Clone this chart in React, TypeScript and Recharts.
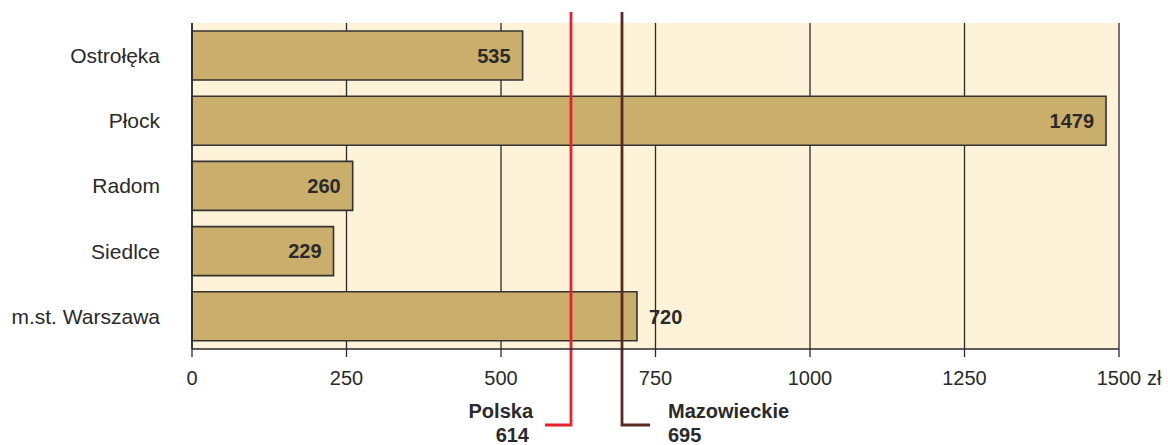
import { Bar, BarChart, CartesianGrid, LabelList, ReferenceLine, XAxis, YAxis } from "recharts";

const cities = ["Ostrołęka", "Płock", "Radom", "Siedlce", "m.st. Warszawa"];
const amounts = [535, 1479, 260, 229, 720];
const xTicks = [0, 250, 500, 750, 1000, 1250, 1500];
const unit = "zł";
const polska = { label: "Polska", value: 614 };
const mazowieckie = { label: "Mazowieckie", value: 695 };

const data = cities.map((city, i) => ({ city, amount: amounts[i] }));

const FONT = "'Liberation Sans', Arial, Helvetica, sans-serif";
const INK = "#2a2a2a";

const ValueLabel = (props: any) => {
  const { x, y, width, height, value } = props;
  // labels close to the average lines are moved outside the bar
  const near =
    Math.abs(value - polska.value) < 60 || Math.abs(value - mazowieckie.value) < 60;
  const end = x + width;
  return (
    <text
      x={near ? end + 12 : end - 12}
      y={y + height / 2}
      dy="0.36em"
      textAnchor={near ? "start" : "end"}
      fontFamily={FONT}
      fontWeight="bold"
      fontSize={20}
      fill={INK}
    >
      {value}
    </text>
  );
};

const XTick = ({ x, y, payload }: any) => (
  <g>
    <text x={x} y={y + 26} textAnchor="middle" fontFamily={FONT} fontSize={20} fill={INK}>
      {payload.value}
    </text>
    {payload.value === xTicks[xTicks.length - 1] && (
      <text x={x + 28} y={y + 26} textAnchor="start" fontFamily={FONT} fontSize={20} fill={INK}>
        {unit}
      </text>
    )}
  </g>
);

const marker = (label: string, value: number, color: string, side: "left" | "right") => (props: any) => {
  const { y1, y2 } = props;
  const x = Math.round(props.x1);
  const top = Math.min(y1, y2) - 11;
  const bottom = Math.round(Math.max(y1, y2) + 76);
  const arm = side === "left" ? x - 26 : x + 28;
  const tx = side === "left" ? x - 38 : x + 46;
  const anchor = side === "left" ? "end" : "start";
  return (
    <g>
      <path d={`M${x},${top}V${bottom}H${arm}`} stroke={color} strokeWidth={2.8} fill="none" />
      <text x={tx} y={bottom - 7} textAnchor={anchor} fontFamily={FONT} fontWeight="bold" fontSize={20} fill={INK}>
        {label}
      </text>
      <text x={side === "left" ? tx - 4 : tx} y={bottom + 17} textAnchor={anchor} fontFamily={FONT} fontWeight="bold" fontSize={20} fill={INK}>
        {value}
      </text>
    </g>
  );
};

export default function App() {
  return (
    <div style={{ position: "absolute", left: 0, top: 0 }}>
      <BarChart
        width={1168}
        height={445}
        data={data}
        layout="vertical"
        margin={{ top: 23, right: 49, bottom: 56, left: 0 }}
      >
        <CartesianGrid horizontal={false} fill="#FEF3D9" stroke={INK} strokeWidth={1.3} />
        <XAxis
          type="number"
          domain={[0, 1500]}
          ticks={xTicks}
          interval={0}
          height={40}
          tickSize={8}
          tickMargin={2}
          axisLine={{ stroke: INK, strokeWidth: 1.5 }}
          tickLine={{ stroke: INK, strokeWidth: 1.3 }}
          tick={<XTick />}
        />
        <XAxis
          xAxisId="top"
          orientation="top"
          type="number"
          domain={[0, 1500]}
          height={0}
          tick={false}
          tickLine={false}
          axisLine={{ stroke: INK, strokeWidth: 1.5 }}
        />
        <YAxis
          type="category"
          dataKey="city"
          width={192}
          tickSize={0}
          tickMargin={32}
          axisLine={{ stroke: INK, strokeWidth: 1.5 }}
          tickLine={false}
          tick={{ fill: INK, fontSize: 21, fontFamily: FONT }}
        />
        <Bar
          dataKey="amount"
          barSize={49}
          fill="#C9AE6C"
          stroke="#333"
          strokeWidth={1.6}
          isAnimationActive={false}
        >
          <LabelList dataKey="amount" content={<ValueLabel />} />
        </Bar>
        <ReferenceLine
          x={polska.value}
          stroke="#E8202A"
          shape={marker(polska.label, polska.value, "#E8202A", "left")}
        />
        <ReferenceLine
          x={mazowieckie.value}
          stroke="#5A2A20"
          shape={marker(mazowieckie.label, mazowieckie.value, "#5A2A20", "right")}
        />
      </BarChart>
    </div>
  );
}
